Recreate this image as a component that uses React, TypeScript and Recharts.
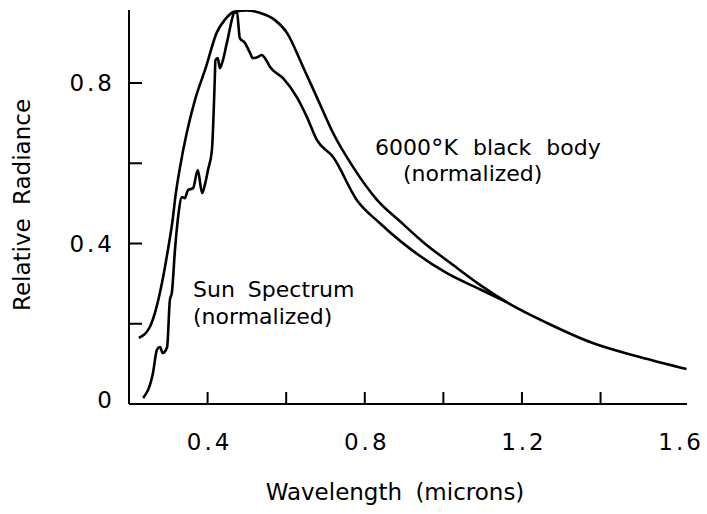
import React from 'react';
import { LineChart, Line, XAxis, YAxis } from 'recharts';

const blackbodyWavelength = [0.225, 0.253, 0.266, 0.284, 0.299, 0.312, 0.317, 0.330, 0.347, 0.368, 0.396, 0.423, 0.444, 0.469, 0.500, 0.533, 0.570, 0.602, 0.643, 0.681, 0.719, 0.770, 0.831, 0.889, 0.948, 1.024, 1.093, 1.161, 1.264, 1.380, 1.500, 1.619];
const blackbodyRadiance = [0.165, 0.192, 0.227, 0.302, 0.384, 0.466, 0.509, 0.591, 0.676, 0.758, 0.840, 0.925, 0.958, 0.978, 0.981, 0.975, 0.958, 0.925, 0.840, 0.758, 0.676, 0.591, 0.509, 0.456, 0.404, 0.347, 0.297, 0.254, 0.202, 0.152, 0.117, 0.087];

const sunWavelength = [0.236, 0.261, 0.271, 0.279, 0.286, 0.297, 0.304, 0.309, 0.317, 0.325, 0.335, 0.342, 0.350, 0.363, 0.375, 0.386, 0.393, 0.401, 0.411, 0.418, 0.420, 0.426, 0.431, 0.439, 0.449, 0.470, 0.475, 0.482, 0.495, 0.508, 0.515, 0.528, 0.538, 0.546, 0.559, 0.592, 0.627, 0.652, 0.678, 0.719, 0.780, 0.838, 1.009, 1.093, 1.161];
const sunRadiance = [0.015, 0.077, 0.135, 0.142, 0.127, 0.142, 0.259, 0.277, 0.384, 0.466, 0.516, 0.513, 0.533, 0.538, 0.583, 0.526, 0.546, 0.583, 0.633, 0.800, 0.857, 0.862, 0.837, 0.857, 0.900, 0.976, 0.974, 0.912, 0.900, 0.875, 0.862, 0.865, 0.870, 0.862, 0.840, 0.812, 0.765, 0.717, 0.658, 0.616, 0.508, 0.451, 0.326, 0.286, 0.254];

const xTicks = [0.4, 0.6, 0.8, 1.0, 1.2, 1.4, 1.6];
const xTickLabels: Record<string, string> = { '0.4': '0.4', '0.8': '0.8', '1.2': '1.2', '1.6': '1.6' };
const xMarkedTicks = [0.4, 0.6, 0.8, 1.0, 1.2, 1.4];
const yTicks = [0, 0.2, 0.4, 0.6, 0.8];
const yTickLabels: Record<string, string> = { '0': '0', '0.4': '0.4', '0.8': '0.8' };

const blackbodyData = blackbodyWavelength.map((x, i) => ({ x, y: blackbodyRadiance[i] }));
const sunData = sunWavelength.map((x, i) => ({ x, y: sunRadiance[i] }));

const FONT = '"DejaVu Sans", sans-serif';

const XTick = (props: any) => {
  const { x, y, payload } = props;
  const v = payload.value;
  const label = xTickLabels[String(v)];
  const marked = xMarkedTicks.some((t) => Math.abs(t - v) < 1e-6);
  return (
    <g>
      {marked && <line x1={x} x2={x} y1={y} y2={y - 12} stroke="#000" strokeWidth={2} />}
      {label && (
        <text x={x + 2} y={y + 46} textAnchor="middle" fontFamily={FONT} fontSize={23} letterSpacing={3} fill="#000">
          {label}
        </text>
      )}
    </g>
  );
};

const YTick = (props: any) => {
  const { x, y, payload } = props;
  const v = payload.value;
  const label = yTickLabels[String(v)];
  return (
    <g>
      {v !== 0 && <line x1={x} x2={x + 13} y1={y} y2={y} stroke="#000" strokeWidth={2} />}
      {label && (
        <text x={x - 14} y={v === 0 ? y + 4 : y + 8} textAnchor="end" fontFamily={FONT} fontSize={23} letterSpacing={3} fill="#000">
          {label}
        </text>
      )}
    </g>
  );
};

export default function App() {
  return (
    <div style={{ position: 'absolute', left: 0, top: 0, width: 707, height: 514, background: '#fff' }}>
      <LineChart width={707} height={514} margin={{ top: 10, right: 20, bottom: 0, left: 0 }}>
        <XAxis
          type="number"
          dataKey="x"
          domain={[0.2, 1.62]}
          ticks={xTicks}
          allowDataOverflow
          height={110}
          tickSize={0}
          tickMargin={0}
          tickLine={false}
          axisLine={{ stroke: '#000', strokeWidth: 2 }}
          tick={<XTick />}
          interval={0}
        />
        <YAxis
          type="number"
          dataKey="y"
          domain={[0, 0.982]}
          ticks={yTicks}
          allowDataOverflow
          width={129}
          tickSize={0}
          tickMargin={0}
          tickLine={false}
          axisLine={{ stroke: '#000', strokeWidth: 2 }}
          tick={<YTick />}
          interval={0}
        />
        <Line data={blackbodyData} dataKey="y" type="monotone" stroke="#000" strokeWidth={2.6} dot={false} isAnimationActive={false} />
        <Line data={sunData} dataKey="y" type="monotone" stroke="#000" strokeWidth={2.6} dot={false} isAnimationActive={false} />
      </LineChart>
      <svg width={707} height={514} style={{ position: 'absolute', left: 0, top: 0, pointerEvents: 'none' }}>
        <g fontFamily={FONT} fontSize={22} fill="#000">
          <text x={375} y={155} wordSpacing={8}>
            6000<tspan fontSize={25} dy={2}>°</tspan><tspan dy={-2}>K black body</tspan>
          </text>
          <text x={403} y={181}>(normalized)</text>
          <text x={193} y={297} wordSpacing={6}>Sun Spectrum</text>
          <text x={193} y={324}>(normalized)</text>
          <text x={395} y={500} textAnchor="middle" fontSize={23} wordSpacing={6}>Wavelength (microns)</text>
          <text x={0} y={0} transform="translate(30,205) rotate(-90)" textAnchor="middle" fontSize={23} wordSpacing={6}>Relative Radiance</text>
        </g>
      </svg>
    </div>
  );
}
